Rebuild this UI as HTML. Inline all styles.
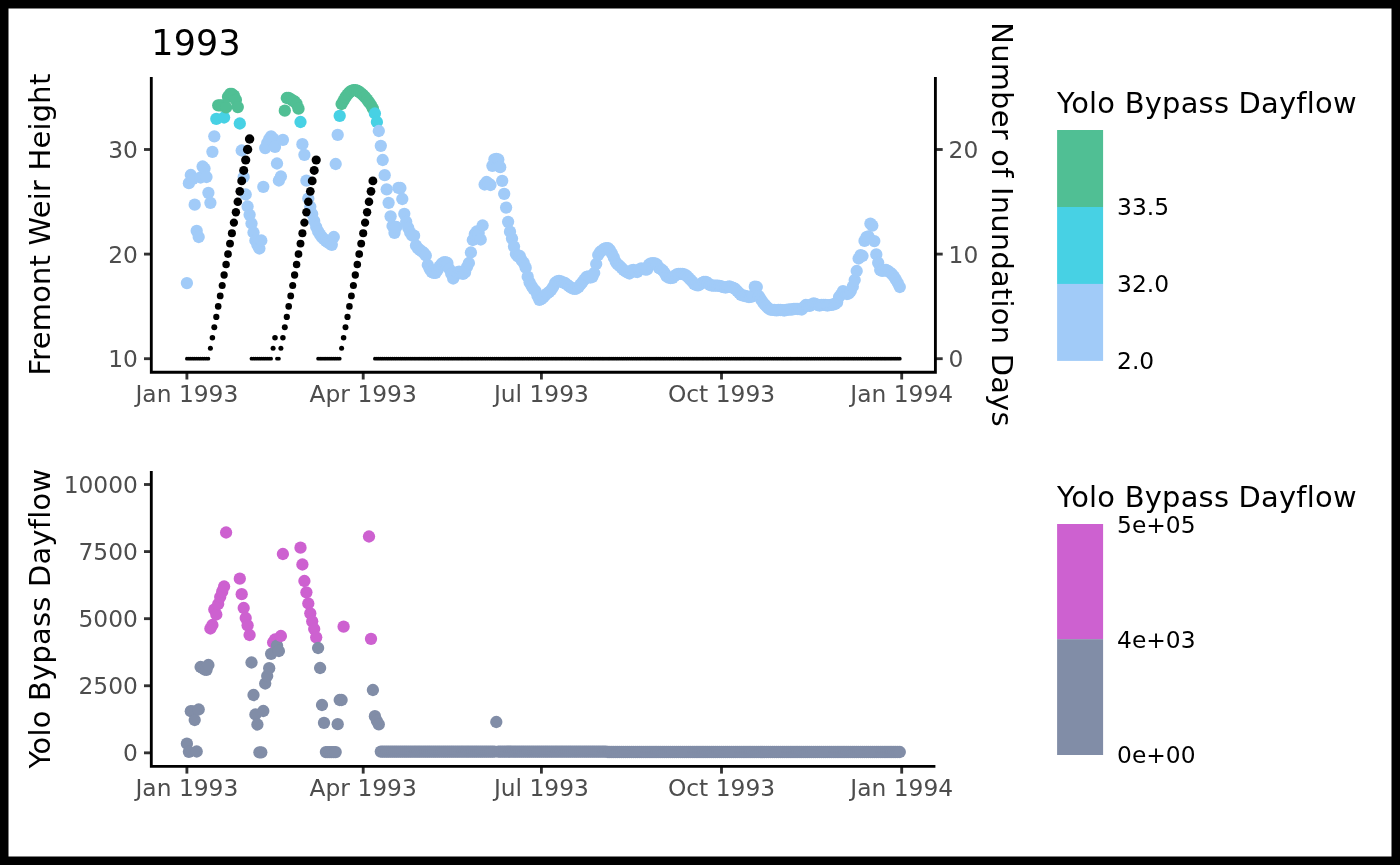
<!DOCTYPE html>
<html lang="en"><head><meta charset="utf-8"><title>1993</title>
<style>html,body{margin:0;padding:0;background:#000;}svg{display:block;font-family:"DejaVu Sans","Liberation Sans",sans-serif;}.ax{font-size:23.35px;fill:#4D4D4D}.lt{font-size:23.35px;fill:#000}.ti{font-size:28.9px;letter-spacing:0.24px;fill:#000}.h1{font-size:34.8px;letter-spacing:0.25px;fill:#000}.tk{stroke:#333333;stroke-width:2.85;fill:none}.al{stroke:#000;stroke-width:2.85;fill:none;stroke-linejoin:miter}</style></head><body>
<svg width="1400" height="865" viewBox="0 0 1400 865">
<rect x="0" y="0" width="1400" height="865" fill="#000"/>
<rect x="8.5" y="8.5" width="1383" height="848" fill="#fff"/>
<g id="c1pts">
<circle cx="186.9" cy="283.1" r="6.15" fill="#A1CBF8"/>
<circle cx="188.9" cy="183.2" r="6.15" fill="#A1CBF8"/>
<circle cx="190.8" cy="175.0" r="6.15" fill="#A1CBF8"/>
<circle cx="192.8" cy="179.0" r="6.15" fill="#A1CBF8"/>
<circle cx="194.7" cy="204.7" r="6.15" fill="#A1CBF8"/>
<circle cx="196.7" cy="230.8" r="6.15" fill="#A1CBF8"/>
<circle cx="198.7" cy="237.0" r="6.15" fill="#A1CBF8"/>
<circle cx="200.6" cy="177.5" r="6.15" fill="#A1CBF8"/>
<circle cx="202.6" cy="166.5" r="6.15" fill="#A1CBF8"/>
<circle cx="204.5" cy="168.5" r="6.15" fill="#A1CBF8"/>
<circle cx="206.5" cy="177.0" r="6.15" fill="#A1CBF8"/>
<circle cx="208.4" cy="192.8" r="6.15" fill="#A1CBF8"/>
<circle cx="210.4" cy="202.8" r="6.15" fill="#A1CBF8"/>
<circle cx="212.4" cy="151.8" r="6.15" fill="#A1CBF8"/>
<circle cx="214.3" cy="136.3" r="6.15" fill="#A1CBF8"/>
<circle cx="216.3" cy="118.8" r="6.15" fill="#47D1E4"/>
<circle cx="218.2" cy="105.3" r="6.15" fill="#50BF94"/>
<circle cx="220.2" cy="105.3" r="6.15" fill="#50BF94"/>
<circle cx="222.2" cy="105.3" r="6.15" fill="#50BF94"/>
<circle cx="224.1" cy="117.5" r="6.15" fill="#47D1E4"/>
<circle cx="226.1" cy="107.3" r="6.15" fill="#50BF94"/>
<circle cx="228.0" cy="96.8" r="6.15" fill="#50BF94"/>
<circle cx="230.0" cy="94.0" r="6.15" fill="#50BF94"/>
<circle cx="231.9" cy="94.0" r="6.15" fill="#50BF94"/>
<circle cx="233.9" cy="95.6" r="6.15" fill="#50BF94"/>
<circle cx="235.9" cy="99.9" r="6.15" fill="#50BF94"/>
<circle cx="237.8" cy="107.1" r="6.15" fill="#50BF94"/>
<circle cx="239.8" cy="123.5" r="6.15" fill="#47D1E4"/>
<circle cx="241.7" cy="150.5" r="6.15" fill="#A1CBF8"/>
<circle cx="243.7" cy="177.0" r="6.15" fill="#A1CBF8"/>
<circle cx="245.7" cy="194.5" r="6.15" fill="#A1CBF8"/>
<circle cx="247.6" cy="206.5" r="6.15" fill="#A1CBF8"/>
<circle cx="249.6" cy="214.8" r="6.15" fill="#A1CBF8"/>
<circle cx="251.5" cy="223.5" r="6.15" fill="#A1CBF8"/>
<circle cx="253.5" cy="232.5" r="6.15" fill="#A1CBF8"/>
<circle cx="255.4" cy="240.5" r="6.15" fill="#A1CBF8"/>
<circle cx="257.4" cy="245.0" r="6.15" fill="#A1CBF8"/>
<circle cx="259.4" cy="248.5" r="6.15" fill="#A1CBF8"/>
<circle cx="261.3" cy="240.5" r="6.15" fill="#A1CBF8"/>
<circle cx="263.3" cy="186.8" r="6.15" fill="#A1CBF8"/>
<circle cx="265.2" cy="148.1" r="6.15" fill="#A1CBF8"/>
<circle cx="267.2" cy="143.0" r="6.15" fill="#A1CBF8"/>
<circle cx="269.2" cy="139.1" r="6.15" fill="#A1CBF8"/>
<circle cx="271.1" cy="136.3" r="6.15" fill="#A1CBF8"/>
<circle cx="273.1" cy="138.7" r="6.15" fill="#A1CBF8"/>
<circle cx="275.0" cy="146.9" r="6.15" fill="#A1CBF8"/>
<circle cx="277.0" cy="163.5" r="6.15" fill="#A1CBF8"/>
<circle cx="278.9" cy="180.5" r="6.15" fill="#A1CBF8"/>
<circle cx="280.9" cy="176.5" r="6.15" fill="#A1CBF8"/>
<circle cx="282.9" cy="139.8" r="6.15" fill="#A1CBF8"/>
<circle cx="284.8" cy="110.7" r="6.15" fill="#50BF94"/>
<circle cx="286.8" cy="98.0" r="6.15" fill="#50BF94"/>
<circle cx="288.7" cy="98.0" r="6.15" fill="#50BF94"/>
<circle cx="290.7" cy="99.2" r="6.15" fill="#50BF94"/>
<circle cx="292.7" cy="100.6" r="6.15" fill="#50BF94"/>
<circle cx="294.6" cy="101.5" r="6.15" fill="#50BF94"/>
<circle cx="296.6" cy="103.9" r="6.15" fill="#50BF94"/>
<circle cx="298.5" cy="108.7" r="6.15" fill="#50BF94"/>
<circle cx="300.5" cy="122.0" r="6.15" fill="#47D1E4"/>
<circle cx="302.4" cy="144.2" r="6.15" fill="#A1CBF8"/>
<circle cx="304.4" cy="154.8" r="6.15" fill="#A1CBF8"/>
<circle cx="306.4" cy="180.7" r="6.15" fill="#A1CBF8"/>
<circle cx="308.3" cy="198.5" r="6.15" fill="#A1CBF8"/>
<circle cx="310.3" cy="206.8" r="6.15" fill="#A1CBF8"/>
<circle cx="312.2" cy="214.0" r="6.15" fill="#A1CBF8"/>
<circle cx="314.2" cy="221.0" r="6.15" fill="#A1CBF8"/>
<circle cx="316.2" cy="227.0" r="6.15" fill="#A1CBF8"/>
<circle cx="318.1" cy="231.3" r="6.15" fill="#A1CBF8"/>
<circle cx="320.1" cy="234.7" r="6.15" fill="#A1CBF8"/>
<circle cx="322.0" cy="237.2" r="6.15" fill="#A1CBF8"/>
<circle cx="324.0" cy="239.2" r="6.15" fill="#A1CBF8"/>
<circle cx="325.9" cy="240.8" r="6.15" fill="#A1CBF8"/>
<circle cx="327.9" cy="242.3" r="6.15" fill="#A1CBF8"/>
<circle cx="329.9" cy="243.7" r="6.15" fill="#A1CBF8"/>
<circle cx="331.8" cy="244.8" r="6.15" fill="#A1CBF8"/>
<circle cx="333.8" cy="237.0" r="6.15" fill="#A1CBF8"/>
<circle cx="335.7" cy="164.0" r="6.15" fill="#A1CBF8"/>
<circle cx="337.7" cy="134.8" r="6.15" fill="#A1CBF8"/>
<circle cx="339.7" cy="115.8" r="6.15" fill="#47D1E4"/>
<circle cx="341.6" cy="104.0" r="6.15" fill="#50BF94"/>
<circle cx="343.6" cy="100.5" r="6.15" fill="#50BF94"/>
<circle cx="345.5" cy="97.2" r="6.15" fill="#50BF94"/>
<circle cx="347.5" cy="94.5" r="6.15" fill="#50BF94"/>
<circle cx="349.4" cy="92.3" r="6.15" fill="#50BF94"/>
<circle cx="351.4" cy="90.8" r="6.15" fill="#50BF94"/>
<circle cx="353.4" cy="90.1" r="6.15" fill="#50BF94"/>
<circle cx="355.3" cy="90.1" r="6.15" fill="#50BF94"/>
<circle cx="357.3" cy="90.6" r="6.15" fill="#50BF94"/>
<circle cx="359.2" cy="91.8" r="6.15" fill="#50BF94"/>
<circle cx="361.2" cy="93.4" r="6.15" fill="#50BF94"/>
<circle cx="363.2" cy="95.2" r="6.15" fill="#50BF94"/>
<circle cx="365.1" cy="97.2" r="6.15" fill="#50BF94"/>
<circle cx="367.1" cy="99.6" r="6.15" fill="#50BF94"/>
<circle cx="369.0" cy="102.2" r="6.15" fill="#50BF94"/>
<circle cx="371.0" cy="105.0" r="6.15" fill="#50BF94"/>
<circle cx="372.9" cy="108.5" r="6.15" fill="#50BF94"/>
<circle cx="374.9" cy="113.5" r="6.15" fill="#47D1E4"/>
<circle cx="376.9" cy="122.0" r="6.15" fill="#47D1E4"/>
<circle cx="378.8" cy="131.0" r="6.15" fill="#A1CBF8"/>
<circle cx="380.8" cy="145.8" r="6.15" fill="#A1CBF8"/>
<circle cx="382.7" cy="160.0" r="6.15" fill="#A1CBF8"/>
<circle cx="384.7" cy="175.2" r="6.15" fill="#A1CBF8"/>
<circle cx="386.7" cy="189.3" r="6.15" fill="#A1CBF8"/>
<circle cx="388.6" cy="202.8" r="6.15" fill="#A1CBF8"/>
<circle cx="390.6" cy="216.3" r="6.15" fill="#A1CBF8"/>
<circle cx="392.5" cy="226.0" r="6.15" fill="#A1CBF8"/>
<circle cx="394.5" cy="232.8" r="6.15" fill="#A1CBF8"/>
<circle cx="396.4" cy="227.0" r="6.15" fill="#A1CBF8"/>
<circle cx="398.4" cy="187.8" r="6.15" fill="#A1CBF8"/>
<circle cx="400.4" cy="188.0" r="6.15" fill="#A1CBF8"/>
<circle cx="402.3" cy="199.0" r="6.15" fill="#A1CBF8"/>
<circle cx="404.3" cy="213.8" r="6.15" fill="#A1CBF8"/>
<circle cx="406.2" cy="221.8" r="6.15" fill="#A1CBF8"/>
<circle cx="408.2" cy="227.8" r="6.15" fill="#A1CBF8"/>
<circle cx="410.2" cy="232.5" r="6.15" fill="#A1CBF8"/>
<circle cx="412.1" cy="235.5" r="6.15" fill="#A1CBF8"/>
<circle cx="414.1" cy="235.7" r="6.15" fill="#A1CBF8"/>
<circle cx="416.0" cy="245.5" r="6.15" fill="#A1CBF8"/>
<circle cx="418.0" cy="248.5" r="6.15" fill="#A1CBF8"/>
<circle cx="419.9" cy="250.0" r="6.15" fill="#A1CBF8"/>
<circle cx="421.9" cy="251.5" r="6.15" fill="#A1CBF8"/>
<circle cx="423.9" cy="253.0" r="6.15" fill="#A1CBF8"/>
<circle cx="425.8" cy="255.5" r="6.15" fill="#A1CBF8"/>
<circle cx="427.8" cy="265.0" r="6.15" fill="#A1CBF8"/>
<circle cx="429.7" cy="269.0" r="6.15" fill="#A1CBF8"/>
<circle cx="431.7" cy="272.0" r="6.15" fill="#A1CBF8"/>
<circle cx="433.7" cy="272.8" r="6.15" fill="#A1CBF8"/>
<circle cx="435.6" cy="272.8" r="6.15" fill="#A1CBF8"/>
<circle cx="437.6" cy="270.0" r="6.15" fill="#A1CBF8"/>
<circle cx="439.5" cy="266.5" r="6.15" fill="#A1CBF8"/>
<circle cx="441.5" cy="264.0" r="6.15" fill="#A1CBF8"/>
<circle cx="443.5" cy="262.5" r="6.15" fill="#A1CBF8"/>
<circle cx="445.4" cy="262.1" r="6.15" fill="#A1CBF8"/>
<circle cx="447.4" cy="263.0" r="6.15" fill="#A1CBF8"/>
<circle cx="449.3" cy="269.0" r="6.15" fill="#A1CBF8"/>
<circle cx="451.3" cy="274.0" r="6.15" fill="#A1CBF8"/>
<circle cx="453.2" cy="278.5" r="6.15" fill="#A1CBF8"/>
<circle cx="455.2" cy="275.0" r="6.15" fill="#A1CBF8"/>
<circle cx="457.2" cy="272.5" r="6.15" fill="#A1CBF8"/>
<circle cx="459.1" cy="271.6" r="6.15" fill="#A1CBF8"/>
<circle cx="461.1" cy="273.0" r="6.15" fill="#A1CBF8"/>
<circle cx="463.0" cy="273.8" r="6.15" fill="#A1CBF8"/>
<circle cx="465.0" cy="272.5" r="6.15" fill="#A1CBF8"/>
<circle cx="467.0" cy="267.0" r="6.15" fill="#A1CBF8"/>
<circle cx="468.9" cy="263.0" r="6.15" fill="#A1CBF8"/>
<circle cx="470.9" cy="252.5" r="6.15" fill="#A1CBF8"/>
<circle cx="472.8" cy="240.0" r="6.15" fill="#A1CBF8"/>
<circle cx="474.8" cy="234.0" r="6.15" fill="#A1CBF8"/>
<circle cx="476.7" cy="231.5" r="6.15" fill="#A1CBF8"/>
<circle cx="478.7" cy="233.0" r="6.15" fill="#A1CBF8"/>
<circle cx="480.7" cy="239.5" r="6.15" fill="#A1CBF8"/>
<circle cx="482.6" cy="225.5" r="6.15" fill="#A1CBF8"/>
<circle cx="484.6" cy="184.5" r="6.15" fill="#A1CBF8"/>
<circle cx="486.5" cy="182.0" r="6.15" fill="#A1CBF8"/>
<circle cx="488.5" cy="183.5" r="6.15" fill="#A1CBF8"/>
<circle cx="490.5" cy="185.0" r="6.15" fill="#A1CBF8"/>
<circle cx="492.4" cy="165.8" r="6.15" fill="#A1CBF8"/>
<circle cx="494.4" cy="159.3" r="6.15" fill="#A1CBF8"/>
<circle cx="496.3" cy="159.0" r="6.15" fill="#A1CBF8"/>
<circle cx="498.3" cy="159.5" r="6.15" fill="#A1CBF8"/>
<circle cx="500.2" cy="167.2" r="6.15" fill="#A1CBF8"/>
<circle cx="502.2" cy="180.8" r="6.15" fill="#A1CBF8"/>
<circle cx="504.2" cy="193.8" r="6.15" fill="#A1CBF8"/>
<circle cx="506.1" cy="207.6" r="6.15" fill="#A1CBF8"/>
<circle cx="508.1" cy="221.8" r="6.15" fill="#A1CBF8"/>
<circle cx="510.0" cy="231.7" r="6.15" fill="#A1CBF8"/>
<circle cx="512.0" cy="238.6" r="6.15" fill="#A1CBF8"/>
<circle cx="514.0" cy="246.6" r="6.15" fill="#A1CBF8"/>
<circle cx="515.9" cy="254.0" r="6.15" fill="#A1CBF8"/>
<circle cx="517.9" cy="256.5" r="6.15" fill="#A1CBF8"/>
<circle cx="519.8" cy="256.0" r="6.15" fill="#A1CBF8"/>
<circle cx="521.8" cy="260.5" r="6.15" fill="#A1CBF8"/>
<circle cx="523.7" cy="262.8" r="6.15" fill="#A1CBF8"/>
<circle cx="525.7" cy="267.7" r="6.15" fill="#A1CBF8"/>
<circle cx="527.7" cy="276.7" r="6.15" fill="#A1CBF8"/>
<circle cx="529.6" cy="282.3" r="6.15" fill="#A1CBF8"/>
<circle cx="531.6" cy="286.0" r="6.15" fill="#A1CBF8"/>
<circle cx="533.5" cy="289.0" r="6.15" fill="#A1CBF8"/>
<circle cx="535.5" cy="291.0" r="6.15" fill="#A1CBF8"/>
<circle cx="537.5" cy="296.0" r="6.15" fill="#A1CBF8"/>
<circle cx="539.4" cy="299.8" r="6.15" fill="#A1CBF8"/>
<circle cx="541.4" cy="299.0" r="6.15" fill="#A1CBF8"/>
<circle cx="543.3" cy="297.5" r="6.15" fill="#A1CBF8"/>
<circle cx="545.3" cy="295.0" r="6.15" fill="#A1CBF8"/>
<circle cx="547.2" cy="293.5" r="6.15" fill="#A1CBF8"/>
<circle cx="549.2" cy="292.0" r="6.15" fill="#A1CBF8"/>
<circle cx="551.2" cy="290.0" r="6.15" fill="#A1CBF8"/>
<circle cx="553.1" cy="287.0" r="6.15" fill="#A1CBF8"/>
<circle cx="555.1" cy="283.0" r="6.15" fill="#A1CBF8"/>
<circle cx="557.0" cy="281.5" r="6.15" fill="#A1CBF8"/>
<circle cx="559.0" cy="281.0" r="6.15" fill="#A1CBF8"/>
<circle cx="561.0" cy="281.5" r="6.15" fill="#A1CBF8"/>
<circle cx="562.9" cy="282.5" r="6.15" fill="#A1CBF8"/>
<circle cx="564.9" cy="283.0" r="6.15" fill="#A1CBF8"/>
<circle cx="566.8" cy="284.5" r="6.15" fill="#A1CBF8"/>
<circle cx="568.8" cy="286.0" r="6.15" fill="#A1CBF8"/>
<circle cx="570.7" cy="287.5" r="6.15" fill="#A1CBF8"/>
<circle cx="572.7" cy="288.5" r="6.15" fill="#A1CBF8"/>
<circle cx="574.7" cy="288.8" r="6.15" fill="#A1CBF8"/>
<circle cx="576.6" cy="288.5" r="6.15" fill="#A1CBF8"/>
<circle cx="578.6" cy="287.0" r="6.15" fill="#A1CBF8"/>
<circle cx="580.5" cy="284.5" r="6.15" fill="#A1CBF8"/>
<circle cx="582.5" cy="282.0" r="6.15" fill="#A1CBF8"/>
<circle cx="584.5" cy="279.5" r="6.15" fill="#A1CBF8"/>
<circle cx="586.4" cy="277.0" r="6.15" fill="#A1CBF8"/>
<circle cx="588.4" cy="276.5" r="6.15" fill="#A1CBF8"/>
<circle cx="590.3" cy="277.5" r="6.15" fill="#A1CBF8"/>
<circle cx="592.3" cy="277.0" r="6.15" fill="#A1CBF8"/>
<circle cx="594.2" cy="273.0" r="6.15" fill="#A1CBF8"/>
<circle cx="596.2" cy="264.0" r="6.15" fill="#A1CBF8"/>
<circle cx="598.2" cy="255.0" r="6.15" fill="#A1CBF8"/>
<circle cx="600.1" cy="252.0" r="6.15" fill="#A1CBF8"/>
<circle cx="602.1" cy="250.5" r="6.15" fill="#A1CBF8"/>
<circle cx="604.0" cy="249.0" r="6.15" fill="#A1CBF8"/>
<circle cx="606.0" cy="248.2" r="6.15" fill="#A1CBF8"/>
<circle cx="608.0" cy="248.2" r="6.15" fill="#A1CBF8"/>
<circle cx="609.9" cy="250.0" r="6.15" fill="#A1CBF8"/>
<circle cx="611.9" cy="253.5" r="6.15" fill="#A1CBF8"/>
<circle cx="613.8" cy="257.5" r="6.15" fill="#A1CBF8"/>
<circle cx="615.8" cy="262.0" r="6.15" fill="#A1CBF8"/>
<circle cx="617.7" cy="264.5" r="6.15" fill="#A1CBF8"/>
<circle cx="619.7" cy="266.0" r="6.15" fill="#A1CBF8"/>
<circle cx="621.7" cy="268.0" r="6.15" fill="#A1CBF8"/>
<circle cx="623.6" cy="270.0" r="6.15" fill="#A1CBF8"/>
<circle cx="625.6" cy="271.5" r="6.15" fill="#A1CBF8"/>
<circle cx="627.5" cy="272.5" r="6.15" fill="#A1CBF8"/>
<circle cx="629.5" cy="273.5" r="6.15" fill="#A1CBF8"/>
<circle cx="631.5" cy="270.5" r="6.15" fill="#A1CBF8"/>
<circle cx="633.4" cy="270.0" r="6.15" fill="#A1CBF8"/>
<circle cx="635.4" cy="271.5" r="6.15" fill="#A1CBF8"/>
<circle cx="637.3" cy="272.0" r="6.15" fill="#A1CBF8"/>
<circle cx="639.3" cy="269.5" r="6.15" fill="#A1CBF8"/>
<circle cx="641.2" cy="268.5" r="6.15" fill="#A1CBF8"/>
<circle cx="643.2" cy="269.0" r="6.15" fill="#A1CBF8"/>
<circle cx="645.2" cy="269.5" r="6.15" fill="#A1CBF8"/>
<circle cx="647.1" cy="269.5" r="6.15" fill="#A1CBF8"/>
<circle cx="649.1" cy="264.5" r="6.15" fill="#A1CBF8"/>
<circle cx="651.0" cy="263.3" r="6.15" fill="#A1CBF8"/>
<circle cx="653.0" cy="263.2" r="6.15" fill="#A1CBF8"/>
<circle cx="655.0" cy="263.3" r="6.15" fill="#A1CBF8"/>
<circle cx="656.9" cy="264.5" r="6.15" fill="#A1CBF8"/>
<circle cx="658.9" cy="268.0" r="6.15" fill="#A1CBF8"/>
<circle cx="660.8" cy="269.0" r="6.15" fill="#A1CBF8"/>
<circle cx="662.8" cy="270.5" r="6.15" fill="#A1CBF8"/>
<circle cx="664.7" cy="273.0" r="6.15" fill="#A1CBF8"/>
<circle cx="666.7" cy="276.5" r="6.15" fill="#A1CBF8"/>
<circle cx="668.7" cy="277.7" r="6.15" fill="#A1CBF8"/>
<circle cx="670.6" cy="278.0" r="6.15" fill="#A1CBF8"/>
<circle cx="672.6" cy="277.8" r="6.15" fill="#A1CBF8"/>
<circle cx="674.5" cy="276.0" r="6.15" fill="#A1CBF8"/>
<circle cx="676.5" cy="274.5" r="6.15" fill="#A1CBF8"/>
<circle cx="678.5" cy="274.0" r="6.15" fill="#A1CBF8"/>
<circle cx="680.4" cy="273.8" r="6.15" fill="#A1CBF8"/>
<circle cx="682.4" cy="274.0" r="6.15" fill="#A1CBF8"/>
<circle cx="684.3" cy="274.5" r="6.15" fill="#A1CBF8"/>
<circle cx="686.3" cy="275.5" r="6.15" fill="#A1CBF8"/>
<circle cx="688.3" cy="277.5" r="6.15" fill="#A1CBF8"/>
<circle cx="690.2" cy="279.5" r="6.15" fill="#A1CBF8"/>
<circle cx="692.2" cy="281.5" r="6.15" fill="#A1CBF8"/>
<circle cx="694.1" cy="284.0" r="6.15" fill="#A1CBF8"/>
<circle cx="696.1" cy="285.0" r="6.15" fill="#A1CBF8"/>
<circle cx="698.0" cy="285.3" r="6.15" fill="#A1CBF8"/>
<circle cx="700.0" cy="284.5" r="6.15" fill="#A1CBF8"/>
<circle cx="702.0" cy="283.0" r="6.15" fill="#A1CBF8"/>
<circle cx="703.9" cy="282.0" r="6.15" fill="#A1CBF8"/>
<circle cx="705.9" cy="281.8" r="6.15" fill="#A1CBF8"/>
<circle cx="707.8" cy="283.0" r="6.15" fill="#A1CBF8"/>
<circle cx="709.8" cy="285.0" r="6.15" fill="#A1CBF8"/>
<circle cx="711.8" cy="285.5" r="6.15" fill="#A1CBF8"/>
<circle cx="713.7" cy="285.6" r="6.15" fill="#A1CBF8"/>
<circle cx="715.7" cy="285.6" r="6.15" fill="#A1CBF8"/>
<circle cx="717.6" cy="285.6" r="6.15" fill="#A1CBF8"/>
<circle cx="719.6" cy="285.8" r="6.15" fill="#A1CBF8"/>
<circle cx="721.5" cy="286.5" r="6.15" fill="#A1CBF8"/>
<circle cx="723.5" cy="287.2" r="6.15" fill="#A1CBF8"/>
<circle cx="725.5" cy="287.5" r="6.15" fill="#A1CBF8"/>
<circle cx="727.4" cy="287.0" r="6.15" fill="#A1CBF8"/>
<circle cx="729.4" cy="286.5" r="6.15" fill="#A1CBF8"/>
<circle cx="731.3" cy="287.2" r="6.15" fill="#A1CBF8"/>
<circle cx="733.3" cy="287.8" r="6.15" fill="#A1CBF8"/>
<circle cx="735.3" cy="289.0" r="6.15" fill="#A1CBF8"/>
<circle cx="737.2" cy="291.0" r="6.15" fill="#A1CBF8"/>
<circle cx="739.2" cy="293.0" r="6.15" fill="#A1CBF8"/>
<circle cx="741.1" cy="295.0" r="6.15" fill="#A1CBF8"/>
<circle cx="743.1" cy="295.5" r="6.15" fill="#A1CBF8"/>
<circle cx="745.0" cy="296.0" r="6.15" fill="#A1CBF8"/>
<circle cx="747.0" cy="296.5" r="6.15" fill="#A1CBF8"/>
<circle cx="749.0" cy="297.0" r="6.15" fill="#A1CBF8"/>
<circle cx="750.9" cy="296.8" r="6.15" fill="#A1CBF8"/>
<circle cx="752.9" cy="295.5" r="6.15" fill="#A1CBF8"/>
<circle cx="754.8" cy="286.7" r="6.15" fill="#A1CBF8"/>
<circle cx="756.8" cy="287.0" r="6.15" fill="#A1CBF8"/>
<circle cx="758.8" cy="296.0" r="6.15" fill="#A1CBF8"/>
<circle cx="760.7" cy="299.0" r="6.15" fill="#A1CBF8"/>
<circle cx="762.7" cy="302.0" r="6.15" fill="#A1CBF8"/>
<circle cx="764.6" cy="304.5" r="6.15" fill="#A1CBF8"/>
<circle cx="766.6" cy="306.5" r="6.15" fill="#A1CBF8"/>
<circle cx="768.5" cy="308.5" r="6.15" fill="#A1CBF8"/>
<circle cx="770.5" cy="309.7" r="6.15" fill="#A1CBF8"/>
<circle cx="772.5" cy="309.8" r="6.15" fill="#A1CBF8"/>
<circle cx="774.4" cy="310.0" r="6.15" fill="#A1CBF8"/>
<circle cx="776.4" cy="310.3" r="6.15" fill="#A1CBF8"/>
<circle cx="778.3" cy="310.0" r="6.15" fill="#A1CBF8"/>
<circle cx="780.3" cy="310.0" r="6.15" fill="#A1CBF8"/>
<circle cx="782.3" cy="310.2" r="6.15" fill="#A1CBF8"/>
<circle cx="784.2" cy="310.5" r="6.15" fill="#A1CBF8"/>
<circle cx="786.2" cy="310.0" r="6.15" fill="#A1CBF8"/>
<circle cx="788.1" cy="309.7" r="6.15" fill="#A1CBF8"/>
<circle cx="790.1" cy="309.5" r="6.15" fill="#A1CBF8"/>
<circle cx="792.0" cy="309.5" r="6.15" fill="#A1CBF8"/>
<circle cx="794.0" cy="309.0" r="6.15" fill="#A1CBF8"/>
<circle cx="796.0" cy="308.8" r="6.15" fill="#A1CBF8"/>
<circle cx="797.9" cy="309.0" r="6.15" fill="#A1CBF8"/>
<circle cx="799.9" cy="309.2" r="6.15" fill="#A1CBF8"/>
<circle cx="801.8" cy="309.5" r="6.15" fill="#A1CBF8"/>
<circle cx="803.8" cy="307.0" r="6.15" fill="#A1CBF8"/>
<circle cx="805.8" cy="305.0" r="6.15" fill="#A1CBF8"/>
<circle cx="807.7" cy="305.5" r="6.15" fill="#A1CBF8"/>
<circle cx="809.7" cy="305.8" r="6.15" fill="#A1CBF8"/>
<circle cx="811.6" cy="304.5" r="6.15" fill="#A1CBF8"/>
<circle cx="813.6" cy="303.5" r="6.15" fill="#A1CBF8"/>
<circle cx="815.5" cy="304.0" r="6.15" fill="#A1CBF8"/>
<circle cx="817.5" cy="305.0" r="6.15" fill="#A1CBF8"/>
<circle cx="819.5" cy="305.5" r="6.15" fill="#A1CBF8"/>
<circle cx="821.4" cy="305.0" r="6.15" fill="#A1CBF8"/>
<circle cx="823.4" cy="304.8" r="6.15" fill="#A1CBF8"/>
<circle cx="825.3" cy="305.0" r="6.15" fill="#A1CBF8"/>
<circle cx="827.3" cy="305.5" r="6.15" fill="#A1CBF8"/>
<circle cx="829.3" cy="305.2" r="6.15" fill="#A1CBF8"/>
<circle cx="831.2" cy="304.8" r="6.15" fill="#A1CBF8"/>
<circle cx="833.2" cy="304.5" r="6.15" fill="#A1CBF8"/>
<circle cx="835.1" cy="304.0" r="6.15" fill="#A1CBF8"/>
<circle cx="837.1" cy="302.5" r="6.15" fill="#A1CBF8"/>
<circle cx="839.0" cy="297.0" r="6.15" fill="#A1CBF8"/>
<circle cx="841.0" cy="294.5" r="6.15" fill="#A1CBF8"/>
<circle cx="843.0" cy="291.2" r="6.15" fill="#A1CBF8"/>
<circle cx="844.9" cy="293.0" r="6.15" fill="#A1CBF8"/>
<circle cx="846.9" cy="294.0" r="6.15" fill="#A1CBF8"/>
<circle cx="848.8" cy="293.5" r="6.15" fill="#A1CBF8"/>
<circle cx="850.8" cy="291.0" r="6.15" fill="#A1CBF8"/>
<circle cx="852.8" cy="286.5" r="6.15" fill="#A1CBF8"/>
<circle cx="854.7" cy="280.0" r="6.15" fill="#A1CBF8"/>
<circle cx="856.7" cy="271.0" r="6.15" fill="#A1CBF8"/>
<circle cx="858.6" cy="258.5" r="6.15" fill="#A1CBF8"/>
<circle cx="860.6" cy="255.2" r="6.15" fill="#A1CBF8"/>
<circle cx="862.5" cy="256.0" r="6.15" fill="#A1CBF8"/>
<circle cx="864.5" cy="240.9" r="6.15" fill="#A1CBF8"/>
<circle cx="866.5" cy="237.2" r="6.15" fill="#A1CBF8"/>
<circle cx="868.4" cy="236.3" r="6.15" fill="#A1CBF8"/>
<circle cx="870.4" cy="223.6" r="6.15" fill="#A1CBF8"/>
<circle cx="872.3" cy="225.6" r="6.15" fill="#A1CBF8"/>
<circle cx="874.3" cy="241.1" r="6.15" fill="#A1CBF8"/>
<circle cx="876.3" cy="254.4" r="6.15" fill="#A1CBF8"/>
<circle cx="878.2" cy="262.8" r="6.15" fill="#A1CBF8"/>
<circle cx="880.2" cy="270.0" r="6.15" fill="#A1CBF8"/>
<circle cx="882.1" cy="270.8" r="6.15" fill="#A1CBF8"/>
<circle cx="884.1" cy="270.5" r="6.15" fill="#A1CBF8"/>
<circle cx="886.0" cy="270.0" r="6.15" fill="#A1CBF8"/>
<circle cx="888.0" cy="271.0" r="6.15" fill="#A1CBF8"/>
<circle cx="890.0" cy="272.5" r="6.15" fill="#A1CBF8"/>
<circle cx="891.9" cy="274.0" r="6.15" fill="#A1CBF8"/>
<circle cx="893.9" cy="276.5" r="6.15" fill="#A1CBF8"/>
<circle cx="895.8" cy="279.5" r="6.15" fill="#A1CBF8"/>
<circle cx="897.8" cy="283.0" r="6.15" fill="#A1CBF8"/>
<circle cx="899.8" cy="287.0" r="6.15" fill="#A1CBF8"/>
</g>
<g id="c1inund" fill="#000">
<circle cx="186.9" cy="358.7" r="1.89"/>
<circle cx="188.9" cy="358.7" r="1.89"/>
<circle cx="190.8" cy="358.7" r="1.89"/>
<circle cx="192.8" cy="358.7" r="1.89"/>
<circle cx="194.7" cy="358.7" r="1.89"/>
<circle cx="196.7" cy="358.7" r="1.89"/>
<circle cx="198.7" cy="358.7" r="1.89"/>
<circle cx="200.6" cy="358.7" r="1.89"/>
<circle cx="202.6" cy="358.7" r="1.89"/>
<circle cx="204.5" cy="358.7" r="1.89"/>
<circle cx="206.5" cy="358.7" r="1.89"/>
<circle cx="208.4" cy="358.7" r="1.89"/>
<circle cx="210.4" cy="348.2" r="2.51"/>
<circle cx="212.4" cy="337.8" r="2.77"/>
<circle cx="214.3" cy="327.3" r="2.97"/>
<circle cx="216.3" cy="316.9" r="3.13"/>
<circle cx="218.2" cy="306.4" r="3.28"/>
<circle cx="220.2" cy="295.9" r="3.41"/>
<circle cx="222.2" cy="285.5" r="3.53"/>
<circle cx="224.1" cy="275.0" r="3.65"/>
<circle cx="226.1" cy="264.6" r="3.75"/>
<circle cx="228.0" cy="254.1" r="3.85"/>
<circle cx="230.0" cy="243.6" r="3.95"/>
<circle cx="231.9" cy="233.2" r="4.04"/>
<circle cx="233.9" cy="222.7" r="4.13"/>
<circle cx="235.9" cy="212.3" r="4.21"/>
<circle cx="237.8" cy="201.8" r="4.29"/>
<circle cx="239.8" cy="191.3" r="4.37"/>
<circle cx="241.7" cy="180.9" r="4.45"/>
<circle cx="243.7" cy="170.4" r="4.52"/>
<circle cx="245.7" cy="160.0" r="4.60"/>
<circle cx="247.6" cy="149.5" r="4.67"/>
<circle cx="249.6" cy="139.0" r="4.74"/>
<circle cx="251.5" cy="358.7" r="1.89"/>
<circle cx="253.5" cy="358.7" r="1.89"/>
<circle cx="255.4" cy="358.7" r="1.89"/>
<circle cx="257.4" cy="358.7" r="1.89"/>
<circle cx="259.4" cy="358.7" r="1.89"/>
<circle cx="261.3" cy="358.7" r="1.89"/>
<circle cx="263.3" cy="358.7" r="1.89"/>
<circle cx="265.2" cy="358.7" r="1.89"/>
<circle cx="267.2" cy="358.7" r="1.89"/>
<circle cx="269.2" cy="358.7" r="1.89"/>
<circle cx="271.1" cy="358.7" r="1.89"/>
<circle cx="273.1" cy="348.2" r="2.51"/>
<circle cx="275.0" cy="337.8" r="2.77"/>
<circle cx="277.0" cy="358.7" r="1.89"/>
<circle cx="278.9" cy="358.7" r="1.89"/>
<circle cx="280.9" cy="348.2" r="2.51"/>
<circle cx="282.9" cy="337.8" r="2.77"/>
<circle cx="284.8" cy="327.3" r="2.97"/>
<circle cx="286.8" cy="316.9" r="3.13"/>
<circle cx="288.7" cy="306.4" r="3.28"/>
<circle cx="290.7" cy="295.9" r="3.41"/>
<circle cx="292.7" cy="285.5" r="3.53"/>
<circle cx="294.6" cy="275.0" r="3.65"/>
<circle cx="296.6" cy="264.6" r="3.75"/>
<circle cx="298.5" cy="254.1" r="3.85"/>
<circle cx="300.5" cy="243.6" r="3.95"/>
<circle cx="302.4" cy="233.2" r="4.04"/>
<circle cx="304.4" cy="222.7" r="4.13"/>
<circle cx="306.4" cy="212.3" r="4.21"/>
<circle cx="308.3" cy="201.8" r="4.29"/>
<circle cx="310.3" cy="191.3" r="4.37"/>
<circle cx="312.2" cy="180.9" r="4.45"/>
<circle cx="314.2" cy="170.4" r="4.52"/>
<circle cx="316.2" cy="160.0" r="4.60"/>
<circle cx="318.1" cy="358.7" r="1.89"/>
<circle cx="320.1" cy="358.7" r="1.89"/>
<circle cx="322.0" cy="358.7" r="1.89"/>
<circle cx="324.0" cy="358.7" r="1.89"/>
<circle cx="325.9" cy="358.7" r="1.89"/>
<circle cx="327.9" cy="358.7" r="1.89"/>
<circle cx="329.9" cy="358.7" r="1.89"/>
<circle cx="331.8" cy="358.7" r="1.89"/>
<circle cx="333.8" cy="358.7" r="1.89"/>
<circle cx="335.7" cy="358.7" r="1.89"/>
<circle cx="337.7" cy="358.7" r="1.89"/>
<circle cx="339.7" cy="358.7" r="1.89"/>
<circle cx="341.6" cy="348.2" r="2.51"/>
<circle cx="343.6" cy="337.8" r="2.77"/>
<circle cx="345.5" cy="327.3" r="2.97"/>
<circle cx="347.5" cy="316.9" r="3.13"/>
<circle cx="349.4" cy="306.4" r="3.28"/>
<circle cx="351.4" cy="295.9" r="3.41"/>
<circle cx="353.4" cy="285.5" r="3.53"/>
<circle cx="355.3" cy="275.0" r="3.65"/>
<circle cx="357.3" cy="264.6" r="3.75"/>
<circle cx="359.2" cy="254.1" r="3.85"/>
<circle cx="361.2" cy="243.6" r="3.95"/>
<circle cx="363.2" cy="233.2" r="4.04"/>
<circle cx="365.1" cy="222.7" r="4.13"/>
<circle cx="367.1" cy="212.3" r="4.21"/>
<circle cx="369.0" cy="201.8" r="4.29"/>
<circle cx="371.0" cy="191.3" r="4.37"/>
<circle cx="372.9" cy="180.9" r="4.45"/>
<circle cx="374.9" cy="358.7" r="1.89"/>
<circle cx="376.9" cy="358.7" r="1.89"/>
<circle cx="378.8" cy="358.7" r="1.89"/>
<circle cx="380.8" cy="358.7" r="1.89"/>
<circle cx="382.7" cy="358.7" r="1.89"/>
<circle cx="384.7" cy="358.7" r="1.89"/>
<circle cx="386.7" cy="358.7" r="1.89"/>
<circle cx="388.6" cy="358.7" r="1.89"/>
<circle cx="390.6" cy="358.7" r="1.89"/>
<circle cx="392.5" cy="358.7" r="1.89"/>
<circle cx="394.5" cy="358.7" r="1.89"/>
<circle cx="396.4" cy="358.7" r="1.89"/>
<circle cx="398.4" cy="358.7" r="1.89"/>
<circle cx="400.4" cy="358.7" r="1.89"/>
<circle cx="402.3" cy="358.7" r="1.89"/>
<circle cx="404.3" cy="358.7" r="1.89"/>
<circle cx="406.2" cy="358.7" r="1.89"/>
<circle cx="408.2" cy="358.7" r="1.89"/>
<circle cx="410.2" cy="358.7" r="1.89"/>
<circle cx="412.1" cy="358.7" r="1.89"/>
<circle cx="414.1" cy="358.7" r="1.89"/>
<circle cx="416.0" cy="358.7" r="1.89"/>
<circle cx="418.0" cy="358.7" r="1.89"/>
<circle cx="419.9" cy="358.7" r="1.89"/>
<circle cx="421.9" cy="358.7" r="1.89"/>
<circle cx="423.9" cy="358.7" r="1.89"/>
<circle cx="425.8" cy="358.7" r="1.89"/>
<circle cx="427.8" cy="358.7" r="1.89"/>
<circle cx="429.7" cy="358.7" r="1.89"/>
<circle cx="431.7" cy="358.7" r="1.89"/>
<circle cx="433.7" cy="358.7" r="1.89"/>
<circle cx="435.6" cy="358.7" r="1.89"/>
<circle cx="437.6" cy="358.7" r="1.89"/>
<circle cx="439.5" cy="358.7" r="1.89"/>
<circle cx="441.5" cy="358.7" r="1.89"/>
<circle cx="443.5" cy="358.7" r="1.89"/>
<circle cx="445.4" cy="358.7" r="1.89"/>
<circle cx="447.4" cy="358.7" r="1.89"/>
<circle cx="449.3" cy="358.7" r="1.89"/>
<circle cx="451.3" cy="358.7" r="1.89"/>
<circle cx="453.2" cy="358.7" r="1.89"/>
<circle cx="455.2" cy="358.7" r="1.89"/>
<circle cx="457.2" cy="358.7" r="1.89"/>
<circle cx="459.1" cy="358.7" r="1.89"/>
<circle cx="461.1" cy="358.7" r="1.89"/>
<circle cx="463.0" cy="358.7" r="1.89"/>
<circle cx="465.0" cy="358.7" r="1.89"/>
<circle cx="467.0" cy="358.7" r="1.89"/>
<circle cx="468.9" cy="358.7" r="1.89"/>
<circle cx="470.9" cy="358.7" r="1.89"/>
<circle cx="472.8" cy="358.7" r="1.89"/>
<circle cx="474.8" cy="358.7" r="1.89"/>
<circle cx="476.7" cy="358.7" r="1.89"/>
<circle cx="478.7" cy="358.7" r="1.89"/>
<circle cx="480.7" cy="358.7" r="1.89"/>
<circle cx="482.6" cy="358.7" r="1.89"/>
<circle cx="484.6" cy="358.7" r="1.89"/>
<circle cx="486.5" cy="358.7" r="1.89"/>
<circle cx="488.5" cy="358.7" r="1.89"/>
<circle cx="490.5" cy="358.7" r="1.89"/>
<circle cx="492.4" cy="358.7" r="1.89"/>
<circle cx="494.4" cy="358.7" r="1.89"/>
<circle cx="496.3" cy="358.7" r="1.89"/>
<circle cx="498.3" cy="358.7" r="1.89"/>
<circle cx="500.2" cy="358.7" r="1.89"/>
<circle cx="502.2" cy="358.7" r="1.89"/>
<circle cx="504.2" cy="358.7" r="1.89"/>
<circle cx="506.1" cy="358.7" r="1.89"/>
<circle cx="508.1" cy="358.7" r="1.89"/>
<circle cx="510.0" cy="358.7" r="1.89"/>
<circle cx="512.0" cy="358.7" r="1.89"/>
<circle cx="514.0" cy="358.7" r="1.89"/>
<circle cx="515.9" cy="358.7" r="1.89"/>
<circle cx="517.9" cy="358.7" r="1.89"/>
<circle cx="519.8" cy="358.7" r="1.89"/>
<circle cx="521.8" cy="358.7" r="1.89"/>
<circle cx="523.7" cy="358.7" r="1.89"/>
<circle cx="525.7" cy="358.7" r="1.89"/>
<circle cx="527.7" cy="358.7" r="1.89"/>
<circle cx="529.6" cy="358.7" r="1.89"/>
<circle cx="531.6" cy="358.7" r="1.89"/>
<circle cx="533.5" cy="358.7" r="1.89"/>
<circle cx="535.5" cy="358.7" r="1.89"/>
<circle cx="537.5" cy="358.7" r="1.89"/>
<circle cx="539.4" cy="358.7" r="1.89"/>
<circle cx="541.4" cy="358.7" r="1.89"/>
<circle cx="543.3" cy="358.7" r="1.89"/>
<circle cx="545.3" cy="358.7" r="1.89"/>
<circle cx="547.2" cy="358.7" r="1.89"/>
<circle cx="549.2" cy="358.7" r="1.89"/>
<circle cx="551.2" cy="358.7" r="1.89"/>
<circle cx="553.1" cy="358.7" r="1.89"/>
<circle cx="555.1" cy="358.7" r="1.89"/>
<circle cx="557.0" cy="358.7" r="1.89"/>
<circle cx="559.0" cy="358.7" r="1.89"/>
<circle cx="561.0" cy="358.7" r="1.89"/>
<circle cx="562.9" cy="358.7" r="1.89"/>
<circle cx="564.9" cy="358.7" r="1.89"/>
<circle cx="566.8" cy="358.7" r="1.89"/>
<circle cx="568.8" cy="358.7" r="1.89"/>
<circle cx="570.7" cy="358.7" r="1.89"/>
<circle cx="572.7" cy="358.7" r="1.89"/>
<circle cx="574.7" cy="358.7" r="1.89"/>
<circle cx="576.6" cy="358.7" r="1.89"/>
<circle cx="578.6" cy="358.7" r="1.89"/>
<circle cx="580.5" cy="358.7" r="1.89"/>
<circle cx="582.5" cy="358.7" r="1.89"/>
<circle cx="584.5" cy="358.7" r="1.89"/>
<circle cx="586.4" cy="358.7" r="1.89"/>
<circle cx="588.4" cy="358.7" r="1.89"/>
<circle cx="590.3" cy="358.7" r="1.89"/>
<circle cx="592.3" cy="358.7" r="1.89"/>
<circle cx="594.2" cy="358.7" r="1.89"/>
<circle cx="596.2" cy="358.7" r="1.89"/>
<circle cx="598.2" cy="358.7" r="1.89"/>
<circle cx="600.1" cy="358.7" r="1.89"/>
<circle cx="602.1" cy="358.7" r="1.89"/>
<circle cx="604.0" cy="358.7" r="1.89"/>
<circle cx="606.0" cy="358.7" r="1.89"/>
<circle cx="608.0" cy="358.7" r="1.89"/>
<circle cx="609.9" cy="358.7" r="1.89"/>
<circle cx="611.9" cy="358.7" r="1.89"/>
<circle cx="613.8" cy="358.7" r="1.89"/>
<circle cx="615.8" cy="358.7" r="1.89"/>
<circle cx="617.7" cy="358.7" r="1.89"/>
<circle cx="619.7" cy="358.7" r="1.89"/>
<circle cx="621.7" cy="358.7" r="1.89"/>
<circle cx="623.6" cy="358.7" r="1.89"/>
<circle cx="625.6" cy="358.7" r="1.89"/>
<circle cx="627.5" cy="358.7" r="1.89"/>
<circle cx="629.5" cy="358.7" r="1.89"/>
<circle cx="631.5" cy="358.7" r="1.89"/>
<circle cx="633.4" cy="358.7" r="1.89"/>
<circle cx="635.4" cy="358.7" r="1.89"/>
<circle cx="637.3" cy="358.7" r="1.89"/>
<circle cx="639.3" cy="358.7" r="1.89"/>
<circle cx="641.2" cy="358.7" r="1.89"/>
<circle cx="643.2" cy="358.7" r="1.89"/>
<circle cx="645.2" cy="358.7" r="1.89"/>
<circle cx="647.1" cy="358.7" r="1.89"/>
<circle cx="649.1" cy="358.7" r="1.89"/>
<circle cx="651.0" cy="358.7" r="1.89"/>
<circle cx="653.0" cy="358.7" r="1.89"/>
<circle cx="655.0" cy="358.7" r="1.89"/>
<circle cx="656.9" cy="358.7" r="1.89"/>
<circle cx="658.9" cy="358.7" r="1.89"/>
<circle cx="660.8" cy="358.7" r="1.89"/>
<circle cx="662.8" cy="358.7" r="1.89"/>
<circle cx="664.7" cy="358.7" r="1.89"/>
<circle cx="666.7" cy="358.7" r="1.89"/>
<circle cx="668.7" cy="358.7" r="1.89"/>
<circle cx="670.6" cy="358.7" r="1.89"/>
<circle cx="672.6" cy="358.7" r="1.89"/>
<circle cx="674.5" cy="358.7" r="1.89"/>
<circle cx="676.5" cy="358.7" r="1.89"/>
<circle cx="678.5" cy="358.7" r="1.89"/>
<circle cx="680.4" cy="358.7" r="1.89"/>
<circle cx="682.4" cy="358.7" r="1.89"/>
<circle cx="684.3" cy="358.7" r="1.89"/>
<circle cx="686.3" cy="358.7" r="1.89"/>
<circle cx="688.3" cy="358.7" r="1.89"/>
<circle cx="690.2" cy="358.7" r="1.89"/>
<circle cx="692.2" cy="358.7" r="1.89"/>
<circle cx="694.1" cy="358.7" r="1.89"/>
<circle cx="696.1" cy="358.7" r="1.89"/>
<circle cx="698.0" cy="358.7" r="1.89"/>
<circle cx="700.0" cy="358.7" r="1.89"/>
<circle cx="702.0" cy="358.7" r="1.89"/>
<circle cx="703.9" cy="358.7" r="1.89"/>
<circle cx="705.9" cy="358.7" r="1.89"/>
<circle cx="707.8" cy="358.7" r="1.89"/>
<circle cx="709.8" cy="358.7" r="1.89"/>
<circle cx="711.8" cy="358.7" r="1.89"/>
<circle cx="713.7" cy="358.7" r="1.89"/>
<circle cx="715.7" cy="358.7" r="1.89"/>
<circle cx="717.6" cy="358.7" r="1.89"/>
<circle cx="719.6" cy="358.7" r="1.89"/>
<circle cx="721.5" cy="358.7" r="1.89"/>
<circle cx="723.5" cy="358.7" r="1.89"/>
<circle cx="725.5" cy="358.7" r="1.89"/>
<circle cx="727.4" cy="358.7" r="1.89"/>
<circle cx="729.4" cy="358.7" r="1.89"/>
<circle cx="731.3" cy="358.7" r="1.89"/>
<circle cx="733.3" cy="358.7" r="1.89"/>
<circle cx="735.3" cy="358.7" r="1.89"/>
<circle cx="737.2" cy="358.7" r="1.89"/>
<circle cx="739.2" cy="358.7" r="1.89"/>
<circle cx="741.1" cy="358.7" r="1.89"/>
<circle cx="743.1" cy="358.7" r="1.89"/>
<circle cx="745.0" cy="358.7" r="1.89"/>
<circle cx="747.0" cy="358.7" r="1.89"/>
<circle cx="749.0" cy="358.7" r="1.89"/>
<circle cx="750.9" cy="358.7" r="1.89"/>
<circle cx="752.9" cy="358.7" r="1.89"/>
<circle cx="754.8" cy="358.7" r="1.89"/>
<circle cx="756.8" cy="358.7" r="1.89"/>
<circle cx="758.8" cy="358.7" r="1.89"/>
<circle cx="760.7" cy="358.7" r="1.89"/>
<circle cx="762.7" cy="358.7" r="1.89"/>
<circle cx="764.6" cy="358.7" r="1.89"/>
<circle cx="766.6" cy="358.7" r="1.89"/>
<circle cx="768.5" cy="358.7" r="1.89"/>
<circle cx="770.5" cy="358.7" r="1.89"/>
<circle cx="772.5" cy="358.7" r="1.89"/>
<circle cx="774.4" cy="358.7" r="1.89"/>
<circle cx="776.4" cy="358.7" r="1.89"/>
<circle cx="778.3" cy="358.7" r="1.89"/>
<circle cx="780.3" cy="358.7" r="1.89"/>
<circle cx="782.3" cy="358.7" r="1.89"/>
<circle cx="784.2" cy="358.7" r="1.89"/>
<circle cx="786.2" cy="358.7" r="1.89"/>
<circle cx="788.1" cy="358.7" r="1.89"/>
<circle cx="790.1" cy="358.7" r="1.89"/>
<circle cx="792.0" cy="358.7" r="1.89"/>
<circle cx="794.0" cy="358.7" r="1.89"/>
<circle cx="796.0" cy="358.7" r="1.89"/>
<circle cx="797.9" cy="358.7" r="1.89"/>
<circle cx="799.9" cy="358.7" r="1.89"/>
<circle cx="801.8" cy="358.7" r="1.89"/>
<circle cx="803.8" cy="358.7" r="1.89"/>
<circle cx="805.8" cy="358.7" r="1.89"/>
<circle cx="807.7" cy="358.7" r="1.89"/>
<circle cx="809.7" cy="358.7" r="1.89"/>
<circle cx="811.6" cy="358.7" r="1.89"/>
<circle cx="813.6" cy="358.7" r="1.89"/>
<circle cx="815.5" cy="358.7" r="1.89"/>
<circle cx="817.5" cy="358.7" r="1.89"/>
<circle cx="819.5" cy="358.7" r="1.89"/>
<circle cx="821.4" cy="358.7" r="1.89"/>
<circle cx="823.4" cy="358.7" r="1.89"/>
<circle cx="825.3" cy="358.7" r="1.89"/>
<circle cx="827.3" cy="358.7" r="1.89"/>
<circle cx="829.3" cy="358.7" r="1.89"/>
<circle cx="831.2" cy="358.7" r="1.89"/>
<circle cx="833.2" cy="358.7" r="1.89"/>
<circle cx="835.1" cy="358.7" r="1.89"/>
<circle cx="837.1" cy="358.7" r="1.89"/>
<circle cx="839.0" cy="358.7" r="1.89"/>
<circle cx="841.0" cy="358.7" r="1.89"/>
<circle cx="843.0" cy="358.7" r="1.89"/>
<circle cx="844.9" cy="358.7" r="1.89"/>
<circle cx="846.9" cy="358.7" r="1.89"/>
<circle cx="848.8" cy="358.7" r="1.89"/>
<circle cx="850.8" cy="358.7" r="1.89"/>
<circle cx="852.8" cy="358.7" r="1.89"/>
<circle cx="854.7" cy="358.7" r="1.89"/>
<circle cx="856.7" cy="358.7" r="1.89"/>
<circle cx="858.6" cy="358.7" r="1.89"/>
<circle cx="860.6" cy="358.7" r="1.89"/>
<circle cx="862.5" cy="358.7" r="1.89"/>
<circle cx="864.5" cy="358.7" r="1.89"/>
<circle cx="866.5" cy="358.7" r="1.89"/>
<circle cx="868.4" cy="358.7" r="1.89"/>
<circle cx="870.4" cy="358.7" r="1.89"/>
<circle cx="872.3" cy="358.7" r="1.89"/>
<circle cx="874.3" cy="358.7" r="1.89"/>
<circle cx="876.3" cy="358.7" r="1.89"/>
<circle cx="878.2" cy="358.7" r="1.89"/>
<circle cx="880.2" cy="358.7" r="1.89"/>
<circle cx="882.1" cy="358.7" r="1.89"/>
<circle cx="884.1" cy="358.7" r="1.89"/>
<circle cx="886.0" cy="358.7" r="1.89"/>
<circle cx="888.0" cy="358.7" r="1.89"/>
<circle cx="890.0" cy="358.7" r="1.89"/>
<circle cx="891.9" cy="358.7" r="1.89"/>
<circle cx="893.9" cy="358.7" r="1.89"/>
<circle cx="895.8" cy="358.7" r="1.89"/>
<circle cx="897.8" cy="358.7" r="1.89"/>
<circle cx="899.8" cy="358.7" r="1.89"/>
</g>
<g class="tk">
<path d="M144.0 149.5H151.3"/>
<path d="M935.4 149.5H942.7"/>
<path d="M144.0 254.1H151.3"/>
<path d="M935.4 254.1H942.7"/>
<path d="M144.0 358.7H151.3"/>
<path d="M935.4 358.7H942.7"/>
<path d="M186.9 372.2V379.5"/>
<path d="M363.2 372.2V379.5"/>
<path d="M541.4 372.2V379.5"/>
<path d="M721.5 372.2V379.5"/>
<path d="M901.7 372.2V379.5"/>
</g>
<path class="al" d="M151.3 76.9V372.2H935.4V76.9"/>
<text class="ax" x="137.9" y="157.9" text-anchor="end">30</text>
<text class="ax" x="137.9" y="262.5" text-anchor="end">20</text>
<text class="ax" x="137.9" y="367.1" text-anchor="end">10</text>
<text class="ax" x="948.6" y="157.9">20</text>
<text class="ax" x="948.6" y="262.5">10</text>
<text class="ax" x="948.6" y="367.1">0</text>
<text class="ax" x="186.9" y="402.3" text-anchor="middle">Jan 1993</text>
<text class="ax" x="363.2" y="402.3" text-anchor="middle">Apr 1993</text>
<text class="ax" x="541.4" y="402.3" text-anchor="middle">Jul 1993</text>
<text class="ax" x="721.5" y="402.3" text-anchor="middle">Oct 1993</text>
<text class="ax" x="901.7" y="402.3" text-anchor="middle">Jan 1994</text>
<text class="h1" x="151.3" y="54.9">1993</text>
<text class="ti" transform="translate(50.1 224.5) rotate(-90)" text-anchor="middle">Fremont Weir Height</text>
<text class="ti" transform="translate(992 224.5) rotate(90)" text-anchor="middle">Number of Inundation Days</text>
<text class="ti" x="1057.1" y="112.7">Yolo Bypass Dayflow</text>
<rect x="1057.1" y="130.0" width="46" height="77.1" fill="#50BF94"/>
<rect x="1057.1" y="207.0" width="46" height="77" fill="#47D1E4"/>
<rect x="1057.1" y="283.9" width="46" height="77.0" fill="#A1CBF8"/>
<text class="lt" x="1117.1" y="215.1">33.5</text>
<text class="lt" x="1117.1" y="292.0">32.0</text>
<text class="lt" x="1117.1" y="368.9">2.0</text>
<g id="c2pts">
<circle cx="186.9" cy="743.7" r="6.15" fill="#818DA7"/>
<circle cx="188.9" cy="751.8" r="6.15" fill="#818DA7"/>
<circle cx="190.8" cy="711.2" r="6.15" fill="#818DA7"/>
<circle cx="192.8" cy="711.5" r="6.15" fill="#818DA7"/>
<circle cx="194.7" cy="720.0" r="6.15" fill="#818DA7"/>
<circle cx="196.7" cy="751.5" r="6.15" fill="#818DA7"/>
<circle cx="198.7" cy="709.5" r="6.15" fill="#818DA7"/>
<circle cx="200.6" cy="667.0" r="6.15" fill="#818DA7"/>
<circle cx="202.6" cy="668.0" r="6.15" fill="#818DA7"/>
<circle cx="204.5" cy="669.5" r="6.15" fill="#818DA7"/>
<circle cx="206.5" cy="669.8" r="6.15" fill="#818DA7"/>
<circle cx="208.4" cy="665.0" r="6.15" fill="#818DA7"/>
<circle cx="210.4" cy="628.5" r="6.15" fill="#CD61D0"/>
<circle cx="212.4" cy="625.0" r="6.15" fill="#CD61D0"/>
<circle cx="214.3" cy="609.5" r="6.15" fill="#CD61D0"/>
<circle cx="216.3" cy="614.5" r="6.15" fill="#CD61D0"/>
<circle cx="218.2" cy="604.0" r="6.15" fill="#CD61D0"/>
<circle cx="220.2" cy="597.0" r="6.15" fill="#CD61D0"/>
<circle cx="222.2" cy="591.7" r="6.15" fill="#CD61D0"/>
<circle cx="224.1" cy="586.5" r="6.15" fill="#CD61D0"/>
<circle cx="226.1" cy="532.5" r="6.15" fill="#CD61D0"/>
<circle cx="239.8" cy="578.7" r="6.15" fill="#CD61D0"/>
<circle cx="241.7" cy="594.2" r="6.15" fill="#CD61D0"/>
<circle cx="243.7" cy="608.0" r="6.15" fill="#CD61D0"/>
<circle cx="245.7" cy="618.0" r="6.15" fill="#CD61D0"/>
<circle cx="247.6" cy="625.3" r="6.15" fill="#CD61D0"/>
<circle cx="249.6" cy="635.0" r="6.15" fill="#CD61D0"/>
<circle cx="251.5" cy="662.5" r="6.15" fill="#818DA7"/>
<circle cx="253.5" cy="695.0" r="6.15" fill="#818DA7"/>
<circle cx="255.4" cy="714.5" r="6.15" fill="#818DA7"/>
<circle cx="257.4" cy="724.5" r="6.15" fill="#818DA7"/>
<circle cx="259.4" cy="752.3" r="6.15" fill="#818DA7"/>
<circle cx="261.3" cy="752.3" r="6.15" fill="#818DA7"/>
<circle cx="263.3" cy="711.0" r="6.15" fill="#818DA7"/>
<circle cx="265.2" cy="683.5" r="6.15" fill="#818DA7"/>
<circle cx="267.2" cy="676.0" r="6.15" fill="#818DA7"/>
<circle cx="269.2" cy="668.2" r="6.15" fill="#818DA7"/>
<circle cx="271.1" cy="653.8" r="6.15" fill="#818DA7"/>
<circle cx="273.1" cy="642.5" r="6.15" fill="#CD61D0"/>
<circle cx="275.0" cy="639.5" r="6.15" fill="#CD61D0"/>
<circle cx="277.0" cy="645.6" r="6.15" fill="#818DA7"/>
<circle cx="278.9" cy="651.0" r="6.15" fill="#818DA7"/>
<circle cx="280.9" cy="636.0" r="6.15" fill="#CD61D0"/>
<circle cx="282.9" cy="554.0" r="6.15" fill="#CD61D0"/>
<circle cx="300.5" cy="547.7" r="6.15" fill="#CD61D0"/>
<circle cx="302.4" cy="564.5" r="6.15" fill="#CD61D0"/>
<circle cx="304.4" cy="581.0" r="6.15" fill="#CD61D0"/>
<circle cx="306.4" cy="592.3" r="6.15" fill="#CD61D0"/>
<circle cx="308.3" cy="603.5" r="6.15" fill="#CD61D0"/>
<circle cx="310.3" cy="613.3" r="6.15" fill="#CD61D0"/>
<circle cx="312.2" cy="621.3" r="6.15" fill="#CD61D0"/>
<circle cx="314.2" cy="629.0" r="6.15" fill="#CD61D0"/>
<circle cx="316.2" cy="637.3" r="6.15" fill="#CD61D0"/>
<circle cx="318.1" cy="648.0" r="6.15" fill="#818DA7"/>
<circle cx="320.1" cy="668.0" r="6.15" fill="#818DA7"/>
<circle cx="322.0" cy="705.0" r="6.15" fill="#818DA7"/>
<circle cx="324.0" cy="722.8" r="6.15" fill="#818DA7"/>
<circle cx="325.9" cy="752.1" r="6.15" fill="#818DA7"/>
<circle cx="327.9" cy="752.1" r="6.15" fill="#818DA7"/>
<circle cx="329.9" cy="752.1" r="6.15" fill="#818DA7"/>
<circle cx="331.8" cy="752.1" r="6.15" fill="#818DA7"/>
<circle cx="333.8" cy="752.1" r="6.15" fill="#818DA7"/>
<circle cx="335.7" cy="752.1" r="6.15" fill="#818DA7"/>
<circle cx="337.7" cy="724.2" r="6.15" fill="#818DA7"/>
<circle cx="339.7" cy="700.0" r="6.15" fill="#818DA7"/>
<circle cx="341.6" cy="700.0" r="6.15" fill="#818DA7"/>
<circle cx="343.6" cy="626.7" r="6.15" fill="#CD61D0"/>
<circle cx="369.0" cy="536.5" r="6.15" fill="#CD61D0"/>
<circle cx="371.0" cy="638.8" r="6.15" fill="#CD61D0"/>
<circle cx="372.9" cy="690.0" r="6.15" fill="#818DA7"/>
<circle cx="374.9" cy="716.2" r="6.15" fill="#818DA7"/>
<circle cx="376.9" cy="721.0" r="6.15" fill="#818DA7"/>
<circle cx="378.8" cy="724.3" r="6.15" fill="#818DA7"/>
<circle cx="380.8" cy="751.6" r="6.15" fill="#818DA7"/>
<circle cx="382.7" cy="751.6" r="6.15" fill="#818DA7"/>
<circle cx="384.7" cy="751.6" r="6.15" fill="#818DA7"/>
<circle cx="386.7" cy="751.6" r="6.15" fill="#818DA7"/>
<circle cx="388.6" cy="751.6" r="6.15" fill="#818DA7"/>
<circle cx="390.6" cy="751.6" r="6.15" fill="#818DA7"/>
<circle cx="392.5" cy="751.6" r="6.15" fill="#818DA7"/>
<circle cx="394.5" cy="751.6" r="6.15" fill="#818DA7"/>
<circle cx="396.4" cy="751.6" r="6.15" fill="#818DA7"/>
<circle cx="398.4" cy="751.6" r="6.15" fill="#818DA7"/>
<circle cx="400.4" cy="751.6" r="6.15" fill="#818DA7"/>
<circle cx="402.3" cy="751.6" r="6.15" fill="#818DA7"/>
<circle cx="404.3" cy="751.6" r="6.15" fill="#818DA7"/>
<circle cx="406.2" cy="751.6" r="6.15" fill="#818DA7"/>
<circle cx="408.2" cy="751.6" r="6.15" fill="#818DA7"/>
<circle cx="410.2" cy="751.6" r="6.15" fill="#818DA7"/>
<circle cx="412.1" cy="751.6" r="6.15" fill="#818DA7"/>
<circle cx="414.1" cy="751.6" r="6.15" fill="#818DA7"/>
<circle cx="416.0" cy="751.6" r="6.15" fill="#818DA7"/>
<circle cx="418.0" cy="751.6" r="6.15" fill="#818DA7"/>
<circle cx="419.9" cy="751.6" r="6.15" fill="#818DA7"/>
<circle cx="421.9" cy="751.6" r="6.15" fill="#818DA7"/>
<circle cx="423.9" cy="751.6" r="6.15" fill="#818DA7"/>
<circle cx="425.8" cy="751.6" r="6.15" fill="#818DA7"/>
<circle cx="427.8" cy="751.6" r="6.15" fill="#818DA7"/>
<circle cx="429.7" cy="751.6" r="6.15" fill="#818DA7"/>
<circle cx="431.7" cy="751.6" r="6.15" fill="#818DA7"/>
<circle cx="433.7" cy="751.6" r="6.15" fill="#818DA7"/>
<circle cx="435.6" cy="751.6" r="6.15" fill="#818DA7"/>
<circle cx="437.6" cy="751.6" r="6.15" fill="#818DA7"/>
<circle cx="439.5" cy="751.6" r="6.15" fill="#818DA7"/>
<circle cx="441.5" cy="751.6" r="6.15" fill="#818DA7"/>
<circle cx="443.5" cy="751.6" r="6.15" fill="#818DA7"/>
<circle cx="445.4" cy="751.6" r="6.15" fill="#818DA7"/>
<circle cx="447.4" cy="751.6" r="6.15" fill="#818DA7"/>
<circle cx="449.3" cy="751.6" r="6.15" fill="#818DA7"/>
<circle cx="451.3" cy="751.6" r="6.15" fill="#818DA7"/>
<circle cx="453.2" cy="751.6" r="6.15" fill="#818DA7"/>
<circle cx="455.2" cy="751.6" r="6.15" fill="#818DA7"/>
<circle cx="457.2" cy="751.6" r="6.15" fill="#818DA7"/>
<circle cx="459.1" cy="751.6" r="6.15" fill="#818DA7"/>
<circle cx="461.1" cy="751.6" r="6.15" fill="#818DA7"/>
<circle cx="463.0" cy="751.6" r="6.15" fill="#818DA7"/>
<circle cx="465.0" cy="751.6" r="6.15" fill="#818DA7"/>
<circle cx="467.0" cy="751.6" r="6.15" fill="#818DA7"/>
<circle cx="468.9" cy="751.6" r="6.15" fill="#818DA7"/>
<circle cx="470.9" cy="751.6" r="6.15" fill="#818DA7"/>
<circle cx="472.8" cy="751.6" r="6.15" fill="#818DA7"/>
<circle cx="474.8" cy="751.6" r="6.15" fill="#818DA7"/>
<circle cx="476.7" cy="751.6" r="6.15" fill="#818DA7"/>
<circle cx="478.7" cy="751.6" r="6.15" fill="#818DA7"/>
<circle cx="480.7" cy="751.6" r="6.15" fill="#818DA7"/>
<circle cx="482.6" cy="751.6" r="6.15" fill="#818DA7"/>
<circle cx="484.6" cy="751.6" r="6.15" fill="#818DA7"/>
<circle cx="486.5" cy="751.6" r="6.15" fill="#818DA7"/>
<circle cx="488.5" cy="751.6" r="6.15" fill="#818DA7"/>
<circle cx="490.5" cy="751.6" r="6.15" fill="#818DA7"/>
<circle cx="492.4" cy="751.6" r="6.15" fill="#818DA7"/>
<circle cx="494.4" cy="751.6" r="6.15" fill="#818DA7"/>
<circle cx="496.3" cy="722.0" r="6.15" fill="#818DA7"/>
<circle cx="498.3" cy="751.6" r="6.15" fill="#818DA7"/>
<circle cx="500.2" cy="751.6" r="6.15" fill="#818DA7"/>
<circle cx="502.2" cy="751.6" r="6.15" fill="#818DA7"/>
<circle cx="504.2" cy="751.6" r="6.15" fill="#818DA7"/>
<circle cx="506.1" cy="751.6" r="6.15" fill="#818DA7"/>
<circle cx="508.1" cy="751.6" r="6.15" fill="#818DA7"/>
<circle cx="510.0" cy="751.6" r="6.15" fill="#818DA7"/>
<circle cx="512.0" cy="751.6" r="6.15" fill="#818DA7"/>
<circle cx="514.0" cy="751.6" r="6.15" fill="#818DA7"/>
<circle cx="515.9" cy="751.6" r="6.15" fill="#818DA7"/>
<circle cx="517.9" cy="751.6" r="6.15" fill="#818DA7"/>
<circle cx="519.8" cy="751.6" r="6.15" fill="#818DA7"/>
<circle cx="521.8" cy="751.6" r="6.15" fill="#818DA7"/>
<circle cx="523.7" cy="751.6" r="6.15" fill="#818DA7"/>
<circle cx="525.7" cy="751.6" r="6.15" fill="#818DA7"/>
<circle cx="527.7" cy="751.6" r="6.15" fill="#818DA7"/>
<circle cx="529.6" cy="751.6" r="6.15" fill="#818DA7"/>
<circle cx="531.6" cy="751.6" r="6.15" fill="#818DA7"/>
<circle cx="533.5" cy="751.6" r="6.15" fill="#818DA7"/>
<circle cx="535.5" cy="751.6" r="6.15" fill="#818DA7"/>
<circle cx="537.5" cy="751.6" r="6.15" fill="#818DA7"/>
<circle cx="539.4" cy="751.6" r="6.15" fill="#818DA7"/>
<circle cx="541.4" cy="751.6" r="6.15" fill="#818DA7"/>
<circle cx="543.3" cy="751.6" r="6.15" fill="#818DA7"/>
<circle cx="545.3" cy="751.6" r="6.15" fill="#818DA7"/>
<circle cx="547.2" cy="751.6" r="6.15" fill="#818DA7"/>
<circle cx="549.2" cy="751.6" r="6.15" fill="#818DA7"/>
<circle cx="551.2" cy="751.6" r="6.15" fill="#818DA7"/>
<circle cx="553.1" cy="751.6" r="6.15" fill="#818DA7"/>
<circle cx="555.1" cy="751.6" r="6.15" fill="#818DA7"/>
<circle cx="557.0" cy="751.6" r="6.15" fill="#818DA7"/>
<circle cx="559.0" cy="751.6" r="6.15" fill="#818DA7"/>
<circle cx="561.0" cy="751.6" r="6.15" fill="#818DA7"/>
<circle cx="562.9" cy="751.6" r="6.15" fill="#818DA7"/>
<circle cx="564.9" cy="751.6" r="6.15" fill="#818DA7"/>
<circle cx="566.8" cy="751.6" r="6.15" fill="#818DA7"/>
<circle cx="568.8" cy="751.6" r="6.15" fill="#818DA7"/>
<circle cx="570.7" cy="751.6" r="6.15" fill="#818DA7"/>
<circle cx="572.7" cy="751.6" r="6.15" fill="#818DA7"/>
<circle cx="574.7" cy="751.6" r="6.15" fill="#818DA7"/>
<circle cx="576.6" cy="751.6" r="6.15" fill="#818DA7"/>
<circle cx="578.6" cy="751.6" r="6.15" fill="#818DA7"/>
<circle cx="580.5" cy="751.6" r="6.15" fill="#818DA7"/>
<circle cx="582.5" cy="751.6" r="6.15" fill="#818DA7"/>
<circle cx="584.5" cy="751.6" r="6.15" fill="#818DA7"/>
<circle cx="586.4" cy="751.6" r="6.15" fill="#818DA7"/>
<circle cx="588.4" cy="751.6" r="6.15" fill="#818DA7"/>
<circle cx="590.3" cy="751.6" r="6.15" fill="#818DA7"/>
<circle cx="592.3" cy="751.6" r="6.15" fill="#818DA7"/>
<circle cx="594.2" cy="751.6" r="6.15" fill="#818DA7"/>
<circle cx="596.2" cy="751.6" r="6.15" fill="#818DA7"/>
<circle cx="598.2" cy="751.6" r="6.15" fill="#818DA7"/>
<circle cx="600.1" cy="751.6" r="6.15" fill="#818DA7"/>
<circle cx="602.1" cy="751.6" r="6.15" fill="#818DA7"/>
<circle cx="604.0" cy="751.6" r="6.15" fill="#818DA7"/>
<circle cx="606.0" cy="751.6" r="6.15" fill="#818DA7"/>
<circle cx="608.0" cy="752.0" r="6.15" fill="#818DA7"/>
<circle cx="609.9" cy="752.0" r="6.15" fill="#818DA7"/>
<circle cx="611.9" cy="752.0" r="6.15" fill="#818DA7"/>
<circle cx="613.8" cy="752.0" r="6.15" fill="#818DA7"/>
<circle cx="615.8" cy="752.0" r="6.15" fill="#818DA7"/>
<circle cx="617.7" cy="752.0" r="6.15" fill="#818DA7"/>
<circle cx="619.7" cy="752.0" r="6.15" fill="#818DA7"/>
<circle cx="621.7" cy="752.0" r="6.15" fill="#818DA7"/>
<circle cx="623.6" cy="752.0" r="6.15" fill="#818DA7"/>
<circle cx="625.6" cy="752.0" r="6.15" fill="#818DA7"/>
<circle cx="627.5" cy="752.0" r="6.15" fill="#818DA7"/>
<circle cx="629.5" cy="752.0" r="6.15" fill="#818DA7"/>
<circle cx="631.5" cy="752.0" r="6.15" fill="#818DA7"/>
<circle cx="633.4" cy="752.0" r="6.15" fill="#818DA7"/>
<circle cx="635.4" cy="752.0" r="6.15" fill="#818DA7"/>
<circle cx="637.3" cy="752.0" r="6.15" fill="#818DA7"/>
<circle cx="639.3" cy="752.0" r="6.15" fill="#818DA7"/>
<circle cx="641.2" cy="752.0" r="6.15" fill="#818DA7"/>
<circle cx="643.2" cy="752.0" r="6.15" fill="#818DA7"/>
<circle cx="645.2" cy="752.0" r="6.15" fill="#818DA7"/>
<circle cx="647.1" cy="752.0" r="6.15" fill="#818DA7"/>
<circle cx="649.1" cy="752.0" r="6.15" fill="#818DA7"/>
<circle cx="651.0" cy="752.0" r="6.15" fill="#818DA7"/>
<circle cx="653.0" cy="752.0" r="6.15" fill="#818DA7"/>
<circle cx="655.0" cy="752.0" r="6.15" fill="#818DA7"/>
<circle cx="656.9" cy="752.0" r="6.15" fill="#818DA7"/>
<circle cx="658.9" cy="752.0" r="6.15" fill="#818DA7"/>
<circle cx="660.8" cy="752.0" r="6.15" fill="#818DA7"/>
<circle cx="662.8" cy="752.0" r="6.15" fill="#818DA7"/>
<circle cx="664.7" cy="752.0" r="6.15" fill="#818DA7"/>
<circle cx="666.7" cy="752.0" r="6.15" fill="#818DA7"/>
<circle cx="668.7" cy="752.0" r="6.15" fill="#818DA7"/>
<circle cx="670.6" cy="752.0" r="6.15" fill="#818DA7"/>
<circle cx="672.6" cy="752.0" r="6.15" fill="#818DA7"/>
<circle cx="674.5" cy="752.0" r="6.15" fill="#818DA7"/>
<circle cx="676.5" cy="752.0" r="6.15" fill="#818DA7"/>
<circle cx="678.5" cy="752.0" r="6.15" fill="#818DA7"/>
<circle cx="680.4" cy="752.0" r="6.15" fill="#818DA7"/>
<circle cx="682.4" cy="752.0" r="6.15" fill="#818DA7"/>
<circle cx="684.3" cy="752.0" r="6.15" fill="#818DA7"/>
<circle cx="686.3" cy="752.0" r="6.15" fill="#818DA7"/>
<circle cx="688.3" cy="752.0" r="6.15" fill="#818DA7"/>
<circle cx="690.2" cy="752.0" r="6.15" fill="#818DA7"/>
<circle cx="692.2" cy="752.0" r="6.15" fill="#818DA7"/>
<circle cx="694.1" cy="752.0" r="6.15" fill="#818DA7"/>
<circle cx="696.1" cy="752.0" r="6.15" fill="#818DA7"/>
<circle cx="698.0" cy="752.0" r="6.15" fill="#818DA7"/>
<circle cx="700.0" cy="752.0" r="6.15" fill="#818DA7"/>
<circle cx="702.0" cy="752.0" r="6.15" fill="#818DA7"/>
<circle cx="703.9" cy="752.0" r="6.15" fill="#818DA7"/>
<circle cx="705.9" cy="752.0" r="6.15" fill="#818DA7"/>
<circle cx="707.8" cy="752.0" r="6.15" fill="#818DA7"/>
<circle cx="709.8" cy="752.0" r="6.15" fill="#818DA7"/>
<circle cx="711.8" cy="752.0" r="6.15" fill="#818DA7"/>
<circle cx="713.7" cy="752.0" r="6.15" fill="#818DA7"/>
<circle cx="715.7" cy="752.0" r="6.15" fill="#818DA7"/>
<circle cx="717.6" cy="752.0" r="6.15" fill="#818DA7"/>
<circle cx="719.6" cy="752.0" r="6.15" fill="#818DA7"/>
<circle cx="721.5" cy="752.0" r="6.15" fill="#818DA7"/>
<circle cx="723.5" cy="752.0" r="6.15" fill="#818DA7"/>
<circle cx="725.5" cy="752.0" r="6.15" fill="#818DA7"/>
<circle cx="727.4" cy="752.0" r="6.15" fill="#818DA7"/>
<circle cx="729.4" cy="752.0" r="6.15" fill="#818DA7"/>
<circle cx="731.3" cy="752.0" r="6.15" fill="#818DA7"/>
<circle cx="733.3" cy="752.0" r="6.15" fill="#818DA7"/>
<circle cx="735.3" cy="752.0" r="6.15" fill="#818DA7"/>
<circle cx="737.2" cy="752.0" r="6.15" fill="#818DA7"/>
<circle cx="739.2" cy="752.0" r="6.15" fill="#818DA7"/>
<circle cx="741.1" cy="752.0" r="6.15" fill="#818DA7"/>
<circle cx="743.1" cy="752.0" r="6.15" fill="#818DA7"/>
<circle cx="745.0" cy="752.0" r="6.15" fill="#818DA7"/>
<circle cx="747.0" cy="752.0" r="6.15" fill="#818DA7"/>
<circle cx="749.0" cy="752.0" r="6.15" fill="#818DA7"/>
<circle cx="750.9" cy="752.0" r="6.15" fill="#818DA7"/>
<circle cx="752.9" cy="752.0" r="6.15" fill="#818DA7"/>
<circle cx="754.8" cy="752.0" r="6.15" fill="#818DA7"/>
<circle cx="756.8" cy="752.0" r="6.15" fill="#818DA7"/>
<circle cx="758.8" cy="752.0" r="6.15" fill="#818DA7"/>
<circle cx="760.7" cy="752.0" r="6.15" fill="#818DA7"/>
<circle cx="762.7" cy="752.0" r="6.15" fill="#818DA7"/>
<circle cx="764.6" cy="752.0" r="6.15" fill="#818DA7"/>
<circle cx="766.6" cy="752.0" r="6.15" fill="#818DA7"/>
<circle cx="768.5" cy="752.0" r="6.15" fill="#818DA7"/>
<circle cx="770.5" cy="752.0" r="6.15" fill="#818DA7"/>
<circle cx="772.5" cy="752.0" r="6.15" fill="#818DA7"/>
<circle cx="774.4" cy="752.0" r="6.15" fill="#818DA7"/>
<circle cx="776.4" cy="752.0" r="6.15" fill="#818DA7"/>
<circle cx="778.3" cy="752.0" r="6.15" fill="#818DA7"/>
<circle cx="780.3" cy="752.0" r="6.15" fill="#818DA7"/>
<circle cx="782.3" cy="752.0" r="6.15" fill="#818DA7"/>
<circle cx="784.2" cy="752.0" r="6.15" fill="#818DA7"/>
<circle cx="786.2" cy="752.0" r="6.15" fill="#818DA7"/>
<circle cx="788.1" cy="752.0" r="6.15" fill="#818DA7"/>
<circle cx="790.1" cy="752.0" r="6.15" fill="#818DA7"/>
<circle cx="792.0" cy="752.0" r="6.15" fill="#818DA7"/>
<circle cx="794.0" cy="752.0" r="6.15" fill="#818DA7"/>
<circle cx="796.0" cy="752.0" r="6.15" fill="#818DA7"/>
<circle cx="797.9" cy="752.0" r="6.15" fill="#818DA7"/>
<circle cx="799.9" cy="752.0" r="6.15" fill="#818DA7"/>
<circle cx="801.8" cy="752.0" r="6.15" fill="#818DA7"/>
<circle cx="803.8" cy="752.0" r="6.15" fill="#818DA7"/>
<circle cx="805.8" cy="752.0" r="6.15" fill="#818DA7"/>
<circle cx="807.7" cy="752.0" r="6.15" fill="#818DA7"/>
<circle cx="809.7" cy="752.0" r="6.15" fill="#818DA7"/>
<circle cx="811.6" cy="752.0" r="6.15" fill="#818DA7"/>
<circle cx="813.6" cy="752.0" r="6.15" fill="#818DA7"/>
<circle cx="815.5" cy="752.0" r="6.15" fill="#818DA7"/>
<circle cx="817.5" cy="752.0" r="6.15" fill="#818DA7"/>
<circle cx="819.5" cy="752.0" r="6.15" fill="#818DA7"/>
<circle cx="821.4" cy="752.0" r="6.15" fill="#818DA7"/>
<circle cx="823.4" cy="752.0" r="6.15" fill="#818DA7"/>
<circle cx="825.3" cy="752.0" r="6.15" fill="#818DA7"/>
<circle cx="827.3" cy="752.0" r="6.15" fill="#818DA7"/>
<circle cx="829.3" cy="752.0" r="6.15" fill="#818DA7"/>
<circle cx="831.2" cy="752.0" r="6.15" fill="#818DA7"/>
<circle cx="833.2" cy="752.0" r="6.15" fill="#818DA7"/>
<circle cx="835.1" cy="752.0" r="6.15" fill="#818DA7"/>
<circle cx="837.1" cy="752.0" r="6.15" fill="#818DA7"/>
<circle cx="839.0" cy="752.0" r="6.15" fill="#818DA7"/>
<circle cx="841.0" cy="752.0" r="6.15" fill="#818DA7"/>
<circle cx="843.0" cy="752.0" r="6.15" fill="#818DA7"/>
<circle cx="844.9" cy="752.0" r="6.15" fill="#818DA7"/>
<circle cx="846.9" cy="752.0" r="6.15" fill="#818DA7"/>
<circle cx="848.8" cy="752.0" r="6.15" fill="#818DA7"/>
<circle cx="850.8" cy="752.0" r="6.15" fill="#818DA7"/>
<circle cx="852.8" cy="752.0" r="6.15" fill="#818DA7"/>
<circle cx="854.7" cy="752.0" r="6.15" fill="#818DA7"/>
<circle cx="856.7" cy="752.0" r="6.15" fill="#818DA7"/>
<circle cx="858.6" cy="752.0" r="6.15" fill="#818DA7"/>
<circle cx="860.6" cy="752.0" r="6.15" fill="#818DA7"/>
<circle cx="862.5" cy="752.0" r="6.15" fill="#818DA7"/>
<circle cx="864.5" cy="752.0" r="6.15" fill="#818DA7"/>
<circle cx="866.5" cy="752.0" r="6.15" fill="#818DA7"/>
<circle cx="868.4" cy="752.0" r="6.15" fill="#818DA7"/>
<circle cx="870.4" cy="752.0" r="6.15" fill="#818DA7"/>
<circle cx="872.3" cy="752.0" r="6.15" fill="#818DA7"/>
<circle cx="874.3" cy="752.0" r="6.15" fill="#818DA7"/>
<circle cx="876.3" cy="752.0" r="6.15" fill="#818DA7"/>
<circle cx="878.2" cy="752.0" r="6.15" fill="#818DA7"/>
<circle cx="880.2" cy="752.0" r="6.15" fill="#818DA7"/>
<circle cx="882.1" cy="752.0" r="6.15" fill="#818DA7"/>
<circle cx="884.1" cy="752.0" r="6.15" fill="#818DA7"/>
<circle cx="886.0" cy="752.0" r="6.15" fill="#818DA7"/>
<circle cx="888.0" cy="752.0" r="6.15" fill="#818DA7"/>
<circle cx="890.0" cy="752.0" r="6.15" fill="#818DA7"/>
<circle cx="891.9" cy="752.0" r="6.15" fill="#818DA7"/>
<circle cx="893.9" cy="752.0" r="6.15" fill="#818DA7"/>
<circle cx="895.8" cy="752.0" r="6.15" fill="#818DA7"/>
<circle cx="897.8" cy="752.0" r="6.15" fill="#818DA7"/>
<circle cx="899.8" cy="752.0" r="6.15" fill="#818DA7"/>
</g>
<g class="tk">
<path d="M144.0 752.85H151.3"/>
<path d="M144.0 685.76H151.3"/>
<path d="M144.0 618.68H151.3"/>
<path d="M144.0 551.59H151.3"/>
<path d="M144.0 484.50H151.3"/>
<path d="M186.9 766.3V773.6"/>
<path d="M363.2 766.3V773.6"/>
<path d="M541.4 766.3V773.6"/>
<path d="M721.5 766.3V773.6"/>
<path d="M901.7 766.3V773.6"/>
</g>
<path class="al" d="M151.3 470.9V766.3H935.4"/>
<text class="ax" x="137.9" y="761.2" text-anchor="end">0</text>
<text class="ax" x="137.9" y="694.2" text-anchor="end">2500</text>
<text class="ax" x="137.9" y="627.1" text-anchor="end">5000</text>
<text class="ax" x="137.9" y="560.0" text-anchor="end">7500</text>
<text class="ax" x="137.9" y="492.9" text-anchor="end">10000</text>
<text class="ax" x="186.9" y="796.4" text-anchor="middle">Jan 1993</text>
<text class="ax" x="363.2" y="796.4" text-anchor="middle">Apr 1993</text>
<text class="ax" x="541.4" y="796.4" text-anchor="middle">Jul 1993</text>
<text class="ax" x="721.5" y="796.4" text-anchor="middle">Oct 1993</text>
<text class="ax" x="901.7" y="796.4" text-anchor="middle">Jan 1994</text>
<text class="ti" transform="translate(50.1 618.6) rotate(-90)" text-anchor="middle">Yolo Bypass Dayflow</text>
<text class="ti" x="1057.1" y="506.8">Yolo Bypass Dayflow</text>
<rect x="1057.1" y="524" width="46" height="115.3" fill="#CD61D0"/>
<rect x="1057.1" y="639.2" width="46" height="115.8" fill="#818DA7"/>
<text class="lt" x="1117.1" y="533.0">5e+05</text>
<text class="lt" x="1117.1" y="647.5">4e+03</text>
<text class="lt" x="1117.1" y="762.7">0e+00</text>
</svg></body></html>
